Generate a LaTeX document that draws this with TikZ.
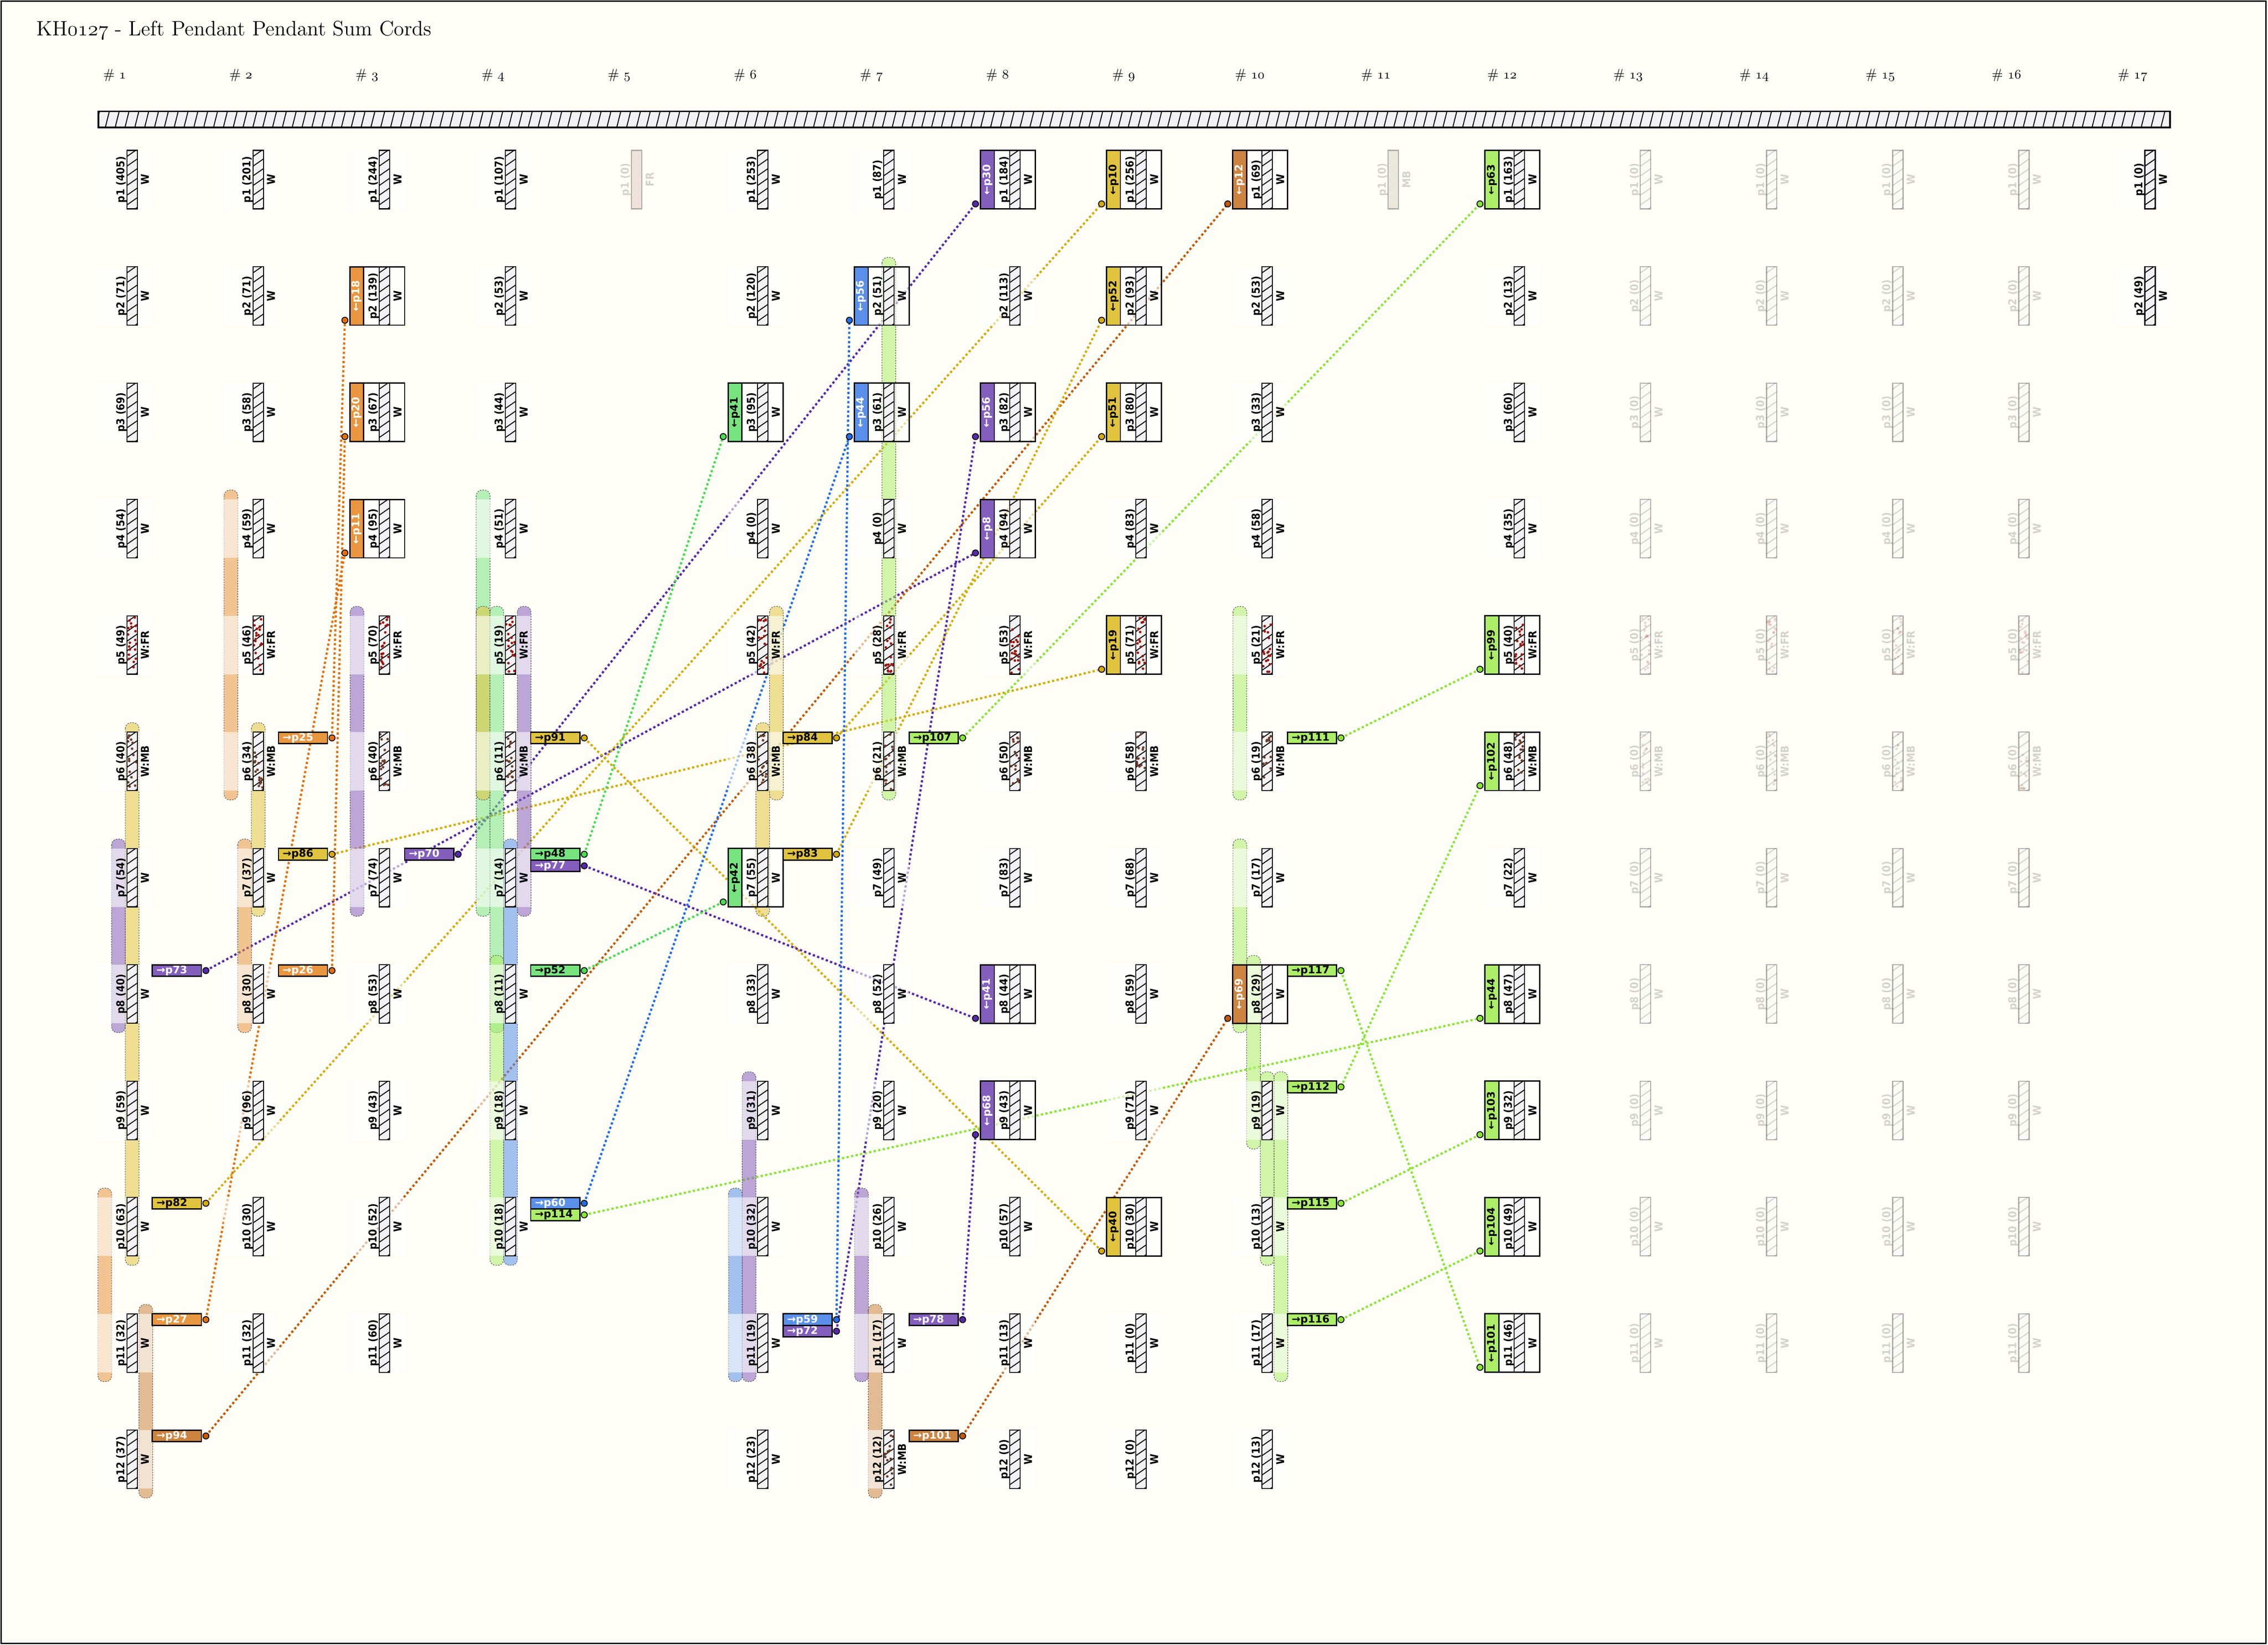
\documentclass[tikz,border=0pt]{standalone}
\usepackage{fontspec}
\newfontfamily\cordfont{DejaVu Sans}[FakeStretch=0.9]
\newfontfamily\markfont{DejaVu Sans}
\newcommand\osn[1]{{\fontencoding{OML}\fontfamily{cmm}\fontseries{m}\fontshape{it}\selectfont #1}}

\definecolor{bgcream}{RGB}{254,254,247}
\definecolor{cordgray}{RGB}{242,242,244}
\definecolor{frdot}{RGB}{160,22,12}
\definecolor{mbdot}{RGB}{110,62,40}
\definecolor{frzfill}{RGB}{164,89,76}
\definecolor{mbzfill}{RGB}{150,118,88}
% sum families: F fill, L line, T text
\definecolor{orF}{RGB}{232,150,64}  \definecolor{orL}{RGB}{228,112,8}  \colorlet{orT}{white}
\definecolor{grF}{RGB}{120,228,128} \definecolor{grL}{RGB}{72,220,80}  \colorlet{grT}{black}
\definecolor{blF}{RGB}{90,144,234}  \definecolor{blL}{RGB}{32,110,232} \colorlet{blT}{white}
\definecolor{puF}{RGB}{132,94,188}  \definecolor{puL}{RGB}{88,40,170}  \colorlet{puT}{white}
\definecolor{yeF}{RGB}{224,196,64}  \definecolor{yeL}{RGB}{214,172,0}  \colorlet{yeT}{black}
\definecolor{brF}{RGB}{204,132,64}  \definecolor{brL}{RGB}{196,90,0}   \colorlet{brT}{white}
\definecolor{lgF}{RGB}{172,238,104} \definecolor{lgL}{RGB}{136,230,50} \colorlet{lgT}{black}

\colorlet{fillw}{cordgray}  \colorlet{hatchw}{black}
\colorlet{fillfr}{cordgray} \colorlet{hatchfr}{black}
\colorlet{fillmb}{cordgray} \colorlet{hatchmb}{black}
\colorlet{fillfrz}{frzfill} \colorlet{hatchfrz}{white}
\colorlet{fillmbz}{mbzfill} \colorlet{hatchmbz}{white}
\def\kindw{W}\def\kindfr{W:FR}\def\kindmb{W:MB}\def\kindfrz{FR}\def\kindmbz{MB}

\pgfdeclarelayer{bglayer}
\pgfdeclarelayer{connlayer}
\pgfdeclarelayer{bandlayer}
\pgfsetlayers{bglayer,connlayer,bandlayer,main}

\tikzset{
  veil/.style={fill=white, fill opacity=0.58},
  noveil/.style={fill=none},
  cordbox/.style={draw=black, line width=0.7pt},
  hatchln/.style={line width=0.65pt},
  cordlbl/.style={rotate=90, anchor=base, inner sep=0pt, font=\cordfont\bfseries\fontsize{7.5}{8}\selectfont},
  boxlbl/.style={rotate=90, anchor=center, inner sep=0pt, font=\markfont\bfseries\fontsize{7.2}{8}\selectfont},
  sumbox/.style={draw=black, line width=0.9pt},
  markbox/.style={draw=black, line width=0.9pt},
  marklbl/.style={anchor=west, inner sep=0pt, font=\markfont\bfseries\fontsize{7.2}{8}\selectfont},
  dotc/.style={circle, draw=black, line width=0.6pt, inner sep=0pt, minimum size=4.2pt},
  conn/.style={line width=1.5pt, dash pattern=on 1.6pt off 1.6pt},
  bandline/.style={draw=black!75, line width=0.35pt, dash pattern=on 0.9pt off 0.9pt, rounded corners=4pt},
  colhead/.style={anchor=base, inner sep=0pt, font=\fontsize{9.5}{11}\selectfont},
}

\newcommand\cordots[2]{\foreach \i in {1,...,#2}{\fill[#1] ({\cordX+0.6+6*rnd},{\cordY+1+38.4*rnd}) circle (0.9);}}
\def\dotsw{}\def\dotsfrz{}\def\dotsmbz{}
\def\dotsfr{\cordots{frdot}{19}}
\def\dotsmb{\cordots{mbdot}{15}}

% [veil] col row value kind
\newcommand\pcord[5][veil]{%
  \pgfmathsetmacro\cordX{87.75+(#2-1)*87.2}%
  \pgfmathsetmacro\cordY{104+(#3-1)*80.45}%
  \edef\cordkind{#5}%
  \fill[#1] (\cordX-20.2,\cordY) rectangle (\cordX+17.6,\cordY+40.4);
  \draw[cordbox, fill=fill\cordkind] (\cordX,\cordY) rectangle (\cordX+7.2,\cordY+40.4);
  \begin{scope}
    \clip (\cordX,\cordY) rectangle (\cordX+7.2,\cordY+40.4);
    \foreach \hh in {-1,...,6}
      \draw[hatchln, draw=hatch\cordkind] (\cordX,\cordY+\hh*6.7+4.2) -- (\cordX+7.2,\cordY+\hh*6.7-0.8);
    \pgfmathsetseed{\number\numexpr#2*100+#3\relax}
    \csname dots\cordkind\endcsname
  \end{scope}
  \draw[cordbox] (\cordX,\cordY) rectangle (\cordX+7.2,\cordY+40.4);
  \node[cordlbl] (c#2p#3) at (\cordX-1.6,\cordY+20.2) {p#3 (#4)};
  \node[cordlbl] (k#2p#3) at (\cordX+15.4,\cordY+20.2) {\csname kind\cordkind\endcsname};
}

% col row family from name
\newcommand\tbox[5]{%
  \pgfmathsetmacro\cordX{87.75+(#1-1)*87.2}%
  \pgfmathsetmacro\cordY{104+(#2-1)*80.45}%
  \fill[#3F] (\cordX-20.2,\cordY) rectangle (\cordX-10.7,\cordY+40.4);
  \node[boxlbl, text=#3T] (b#5) at (\cordX-15.45,\cordY+20.2) {←p#4};
  \draw[sumbox] (\cordX-20.2,\cordY) rectangle (\cordX+17.6,\cordY+40.4);
  \draw[sumbox] (\cordX-10.7,\cordY) -- (\cordX-10.7,\cordY+40.4);
  \node[dotc, fill=#3L] (#5) at (\cordX-23.7,\cordY+37) {};
}

% col row slot family to name
\newcommand\smark[6]{%
  \pgfmathsetmacro\cordX{87.75+(#1-1)*87.2}%
  \pgfmathsetmacro\cordY{104+(#2-1)*80.45+#3*8}%
  \draw[markbox, fill=#4F] (\cordX+17.6,\cordY) rectangle (\cordX+51.5,\cordY+8);
  \node[marklbl, text=#4T] (m#6) at (\cordX+20.3,\cordY+4.1) {→p#5};
  \node[dotc, fill=#4L] (#6) at (\cordX+54.6,\cordY+4) {};
}

% col first last lane family
\newcommand\band[5]{%
  \pgfmathsetmacro\bandX{87.75+(#1-1)*87.2+3.6+(#4)*9.45-4.75}%
  \pgfmathsetmacro\bandA{104+(#2-1)*80.45-6.5}%
  \pgfmathsetmacro\bandB{104+(#3-1)*80.45+46.9}%
  \fill[#5F, fill opacity=0.55, rounded corners=4pt] (\bandX,\bandA) rectangle (\bandX+9.5,\bandB);
  \draw[bandline] (\bandX,\bandA) rectangle (\bandX+9.5,\bandB);
}

\begin{document}
\begin{tikzpicture}[x=1pt,y=-1pt]
  \useasboundingbox (0,0) rectangle (1568.1,1137.35);
  \begin{pgfonlayer}{bglayer}
    \fill[bgcream] (0,0) rectangle (1568.1,1137.35);
  \end{pgfonlayer}
  \draw[line width=0.9pt] (0.8,0.8) rectangle (1566.6,1136.4);

  \node[anchor=base west, inner sep=0pt, font=\fontsize{14.4}{16}\selectfont] (title) at (25,24.6)
    {KH\osn{0127} - Left Pendant Pendant Sum Cords};
  \foreach \n in {1,...,17} {
    \pgfmathsetmacro\hx{87.75+(\n-1)*87.2-8.5}
    \node[colhead] (h\n) at (\hx,54.5) {\# \osn{\n}};
  }

  % main cord
  \draw[cordbox, line width=1.2pt, fill=cordgray] (68,77) rectangle (1500.3,88.2);
  \begin{scope}
    \clip (68,77) rectangle (1500.3,88.2);
    \foreach \hx in {66,72.8,...,1502} \draw[hatchln] (\hx,88.2) -- (\hx+2.8,77);
  \end{scope}
  \draw[line width=1.2pt] (68,77) rectangle (1500.3,88.2);

  % pendants
  \foreach \val/\kd [count=\rw] in {405/w,71/w,69/w,54/w,49/fr,40/mb,54/w,40/w,59/w,63/w,32/w,37/w}
    {\pcord{1}{\rw}{\val}{\kd}}
  \foreach \val/\kd [count=\rw] in {201/w,71/w,58/w,59/w,46/fr,34/mb,37/w,30/w,96/w,30/w,32/w}
    {\pcord{2}{\rw}{\val}{\kd}}
  \foreach \val/\kd [count=\rw] in {244/w,139/w,67/w,95/w,70/fr,40/mb,74/w,53/w,43/w,52/w,60/w}
    {\pcord{3}{\rw}{\val}{\kd}}
  \foreach \val/\kd [count=\rw] in {107/w,53/w,44/w,51/w,19/fr,11/mb,14/w,11/w,18/w,18/w}
    {\pcord{4}{\rw}{\val}{\kd}}
  \foreach \val/\kd [count=\rw] in {253/w,120/w,95/w,0/w,42/fr,38/mb,55/w,33/w,31/w,32/w,19/w,23/w}
    {\pcord{6}{\rw}{\val}{\kd}}
  \foreach \val/\kd [count=\rw] in {87/w,51/w,61/w,0/w,28/fr,21/mb,49/w,52/w,20/w,26/w,17/w,12/mb}
    {\pcord{7}{\rw}{\val}{\kd}}
  \foreach \val/\kd [count=\rw] in {184/w,113/w,82/w,94/w,53/fr,50/mb,83/w,44/w,43/w,57/w,13/w,0/w}
    {\pcord{8}{\rw}{\val}{\kd}}
  \foreach \val/\kd [count=\rw] in {256/w,93/w,80/w,83/w,71/fr,58/mb,68/w,59/w,71/w,30/w,0/w,0/w}
    {\pcord{9}{\rw}{\val}{\kd}}
  \foreach \val/\kd [count=\rw] in {69/w,53/w,33/w,58/w,21/fr,19/mb,17/w,29/w,19/w,13/w,17/w,13/w}
    {\pcord{10}{\rw}{\val}{\kd}}
  \foreach \val/\kd [count=\rw] in {163/w,13/w,60/w,35/w,40/fr,48/mb,22/w,47/w,32/w,49/w,46/w}
    {\pcord{12}{\rw}{\val}{\kd}}
  \pcord{17}{1}{0}{w}
  \pcord{17}{2}{49}{w}
  \begin{scope}[opacity=0.17]
    \pcord[noveil]{5}{1}{0}{frz}
    \pcord[noveil]{11}{1}{0}{mbz}
    \foreach \cc in {13,...,16}
      \foreach \kd [count=\rw] in {w,w,w,w,fr,mb,w,w,w,w,w}
        {\pcord[noveil]{\cc}{\rw}{0}{\kd}}
  \end{scope}

  % sum pendants
  \tbox{3}{2}{or}{18}{i25-18}
  \tbox{3}{3}{or}{20}{i26-20}
  \tbox{3}{4}{or}{11}{i27-11}
  \tbox{6}{3}{gr}{41}{i48-41}
  \tbox{6}{7}{gr}{42}{i52-42}
  \tbox{7}{2}{bl}{56}{i59-56}
  \tbox{7}{3}{bl}{44}{i60-44}
  \tbox{8}{1}{pu}{30}{i70-30}
  \tbox{8}{3}{pu}{56}{i72-56}
  \tbox{8}{4}{pu}{8}{i73-8}
  \tbox{8}{8}{pu}{41}{i77-41}
  \tbox{8}{9}{pu}{68}{i78-68}
  \tbox{9}{1}{ye}{10}{i82-10}
  \tbox{9}{2}{ye}{52}{i83-52}
  \tbox{9}{3}{ye}{51}{i84-51}
  \tbox{9}{5}{ye}{19}{i86-19}
  \tbox{9}{10}{ye}{40}{i91-40}
  \tbox{10}{1}{br}{12}{i94-12}
  \tbox{10}{8}{br}{69}{i101-69}
  \tbox{12}{1}{lg}{63}{i107-63}
  \tbox{12}{5}{lg}{99}{i111-99}
  \tbox{12}{6}{lg}{102}{i112-102}
  \tbox{12}{8}{lg}{44}{i114-44}
  \tbox{12}{9}{lg}{103}{i115-103}
  \tbox{12}{10}{lg}{104}{i116-104}
  \tbox{12}{11}{lg}{101}{i117-101}

  % summands
  \smark{1}{8}{0}{pu}{73}{o8-73}
  \smark{1}{10}{0}{ye}{82}{o10-82}
  \smark{1}{11}{0}{or}{27}{o11-27}
  \smark{1}{12}{0}{br}{94}{o12-94}
  \smark{2}{6}{0}{or}{25}{o18-25}
  \smark{2}{7}{0}{ye}{86}{o19-86}
  \smark{2}{8}{0}{or}{26}{o20-26}
  \smark{3}{7}{0}{pu}{70}{o30-70}
  \smark{4}{6}{0}{ye}{91}{o40-91}
  \smark{4}{7}{0}{gr}{48}{o41-48}
  \smark{4}{7}{1}{pu}{77}{o41-77}
  \smark{4}{8}{0}{gr}{52}{o42-52}
  \smark{4}{10}{0}{bl}{60}{o44-60}
  \smark{4}{10}{1}{lg}{114}{o44-114}
  \smark{6}{6}{0}{ye}{84}{o51-84}
  \smark{6}{7}{0}{ye}{83}{o52-83}
  \smark{6}{11}{0}{bl}{59}{o56-59}
  \smark{6}{11}{1}{pu}{72}{o56-72}
  \smark{7}{6}{0}{lg}{107}{o63-107}
  \smark{7}{11}{0}{pu}{78}{o68-78}
  \smark{7}{12}{0}{br}{101}{o69-101}
  \smark{10}{6}{0}{lg}{111}{o99-111}
  \smark{10}{8}{0}{lg}{117}{o101-117}
  \smark{10}{9}{0}{lg}{112}{o102-112}
  \smark{10}{10}{0}{lg}{115}{o103-115}
  \smark{10}{11}{0}{lg}{116}{o104-116}

  \begin{pgfonlayer}{bandlayer}
    \band{1}{6}{10}{0}{ye}
    \band{1}{7}{8}{-1}{pu}
    \band{1}{10}{11}{-2}{or}
    \band{1}{11}{12}{1}{br}
    \band{2}{4}{6}{-2}{or}
    \band{2}{7}{8}{-1}{or}
    \band{2}{6}{7}{0}{ye}
    \band{3}{5}{7}{-2}{pu}
    \band{4}{4}{7}{-2}{gr}
    \band{4}{5}{6}{-2}{ye}
    \band{4}{5}{8}{-1}{gr}
    \band{4}{8}{10}{-1}{lg}
    \band{4}{5}{7}{1}{pu}
    \band{4}{7}{10}{0}{bl}
    \band{6}{5}{6}{1}{ye}
    \band{6}{6}{7}{0}{ye}
    \band{6}{10}{11}{-2}{bl}
    \band{6}{9}{11}{-1}{pu}
    \band{7}{2}{6}{0}{lg}
    \band{7}{10}{11}{-2}{pu}
    \band{7}{11}{12}{-1}{br}
    \band{10}{5}{6}{-2}{lg}
    \band{10}{7}{8}{-2}{lg}
    \band{10}{8}{9}{-1}{lg}
    \band{10}{9}{10}{0}{lg}
    \band{10}{9}{11}{1}{lg}
  \end{pgfonlayer}

  \begin{pgfonlayer}{connlayer}
    \foreach \src/\dst/\hue in {8/73/pu, 10/82/ye, 11/27/or, 12/94/br, 18/25/or, 19/86/ye,
        20/26/or, 30/70/pu, 40/91/ye, 41/48/gr, 41/77/pu, 42/52/gr, 44/60/bl, 44/114/lg,
        51/84/ye, 52/83/ye, 56/59/bl, 56/72/pu, 63/107/lg, 68/78/pu, 69/101/br,
        99/111/lg, 101/117/lg, 102/112/lg, 103/115/lg, 104/116/lg}
      \draw[conn, draw=\hue L] (o\src-\dst.center) -- (i\dst-\src.center);
  \end{pgfonlayer}
\end{tikzpicture}
\end{document}
